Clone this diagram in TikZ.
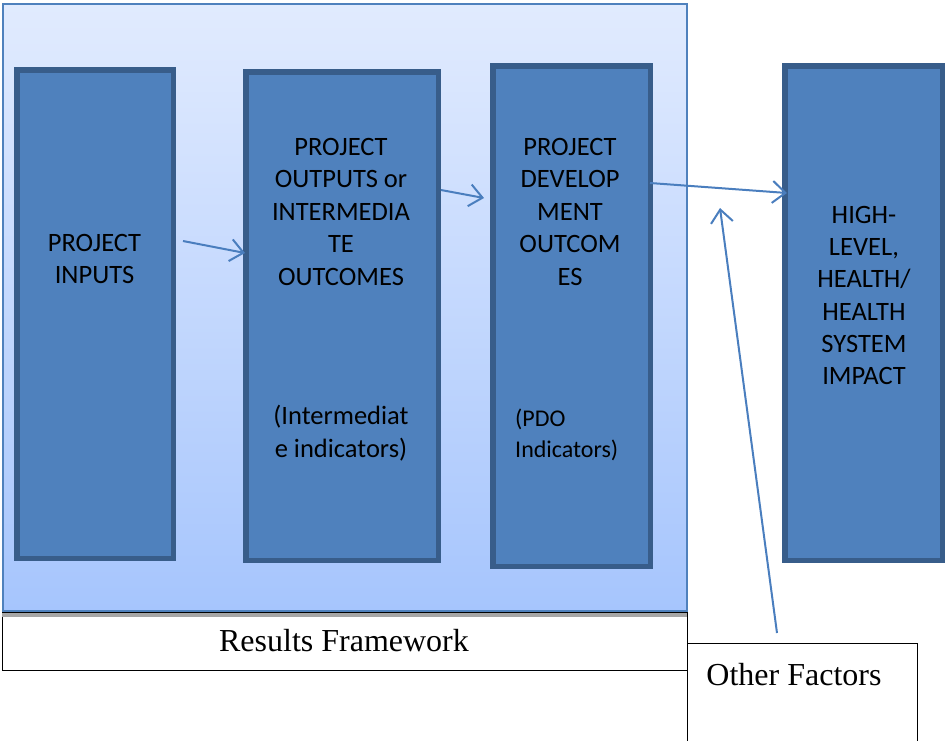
\documentclass[tikz,border=0pt]{standalone}
\usepackage{fontspec}
\setmainfont{Liberation Serif}
\newfontfamily\calfont{Carlito}
\usetikzlibrary{arrows.meta}
\definecolor{boxfill}{RGB}{79,129,189}
\definecolor{boxline}{RGB}{56,93,138}
\definecolor{bgtop}{RGB}{225,235,254}
\definecolor{bgbot}{RGB}{166,197,253}
\definecolor{arrcol}{RGB}{74,126,190}
\definecolor{bgline}{RGB}{79,129,189}
\begin{document}
\begin{tikzpicture}[x=1pt,y=-1pt,
  bluebox/.style={draw=boxline,fill=boxfill,line width=5.5pt,inner sep=0pt},
  boxtext/.style={font=\calfont\fontsize{26.5}{32.5}\selectfont,align=center,inner sep=0pt,anchor=north,text=black},
  boxtextb/.style={font=\calfont\fontsize{26.5}{32.2}\selectfont,align=center,inner sep=0pt,anchor=north,text=black},
  smalltext/.style={font=\calfont\fontsize{24}{31}\selectfont,align=left,inner sep=0pt,anchor=north west,text=black},
  flow/.style={draw=arrcol,line width=2pt,-{Straight Barb[length=13pt,width=22pt,line width=2pt]}},
  framebox/.style={draw=black,line width=1pt,fill=white,inner sep=0pt},
  serif/.style={font=\fontsize{32}{38}\selectfont,inner sep=0pt,text=black}]
\useasboundingbox (0,0) rectangle (945,740);
% lower label boxes
\node[framebox,minimum width=685pt,minimum height=58pt] (rf) at (344.5,641) {};
\node[framebox,minimum width=230pt,minimum height=160pt] (of) at (802,723) {};
% background panel
\node[draw=bgline,line width=2pt,top color=bgtop,bottom color=bgbot,minimum width=684pt,minimum height=607pt,inner sep=0pt] (bg) at (345,307.5) {};
\fill[black!35] (2,612.5) rectangle (687,617);
\node[serif] (rft) at (344,641) {Results Framework};
\node[serif] (oft) at (794,675) {Other Factors};
% blue boxes
\node[bluebox,minimum width=156.5pt,minimum height=488.5pt] (b1) at (95,314) {};
\node[bluebox,minimum width=192.5pt,minimum height=488.5pt] (b2) at (342,316) {};
\node[bluebox,minimum width=157.5pt,minimum height=500.5pt] (b3) at (571.5,316) {};
\node[bluebox,minimum width=157.5pt,minimum height=494.5pt] (b4) at (863.5,313) {};
% texts
\node[boxtext] (t1) at (94.5,234) {PROJECT\\INPUTS};
\node[boxtext] (t2) at (341,138) {PROJECT\\OUTPUTS or\\INTERMEDIA\\TE\\OUTCOMES};
\node[boxtext] (t2b) at (341,405) {(Intermediat\\e indicators)};
\node[boxtext] (t3) at (570,138) {PROJECT\\DEVELOP\\MENT\\OUTCOM\\ES};
\node[smalltext] (t3b) at (515,409) {(PDO\\Indicators)};
\node[boxtextb] (t4) at (864,206) {HIGH-\\LEVEL,\\HEALTH/\\HEALTH\\SYSTEM\\IMPACT};
% arrows
\coordinate (a1s) at (183,241);
\coordinate (a1e) at (245,253);
\coordinate (a2s) at (441,190);
\coordinate (a2e) at (484,198);
\coordinate (a3s) at (650,183);
\coordinate (a3e) at (787,193);
\coordinate (a4s) at (777,633);
\coordinate (a4e) at (720,208);
\draw[flow] (a1s) -- (a1e);
\draw[flow] (a2s) -- (a2e);
\draw[flow] (a3s) -- (a3e);
\draw[flow] (a4s) -- (a4e);
\end{tikzpicture}
\end{document}
